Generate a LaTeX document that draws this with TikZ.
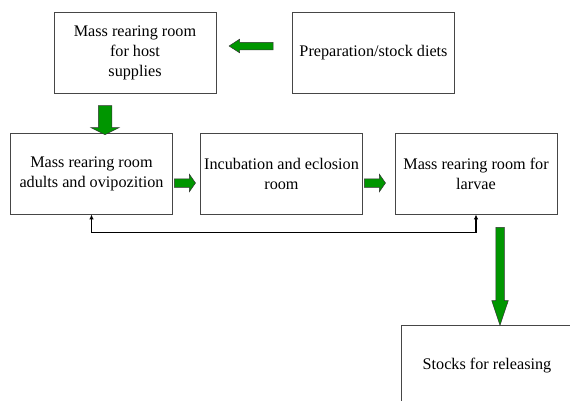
\documentclass[tikz,border=0pt]{standalone}
\usepackage{fontspec}
\setmainfont{Liberation Serif}
\usepackage{tikz}
\usetikzlibrary{shapes.arrows,arrows.meta}
\definecolor{arrowgreen}{RGB}{0,150,0}
\definecolor{boxline}{RGB}{70,70,70}

\begin{document}
\begin{tikzpicture}[x=1pt, y=-1pt,
    font=\fontsize{16.2}{20}\selectfont,
    box/.style={draw=boxline, line width=0.8pt, minimum width=162pt, minimum height=81pt, inner sep=0pt, align=center},
    garrow/.style={single arrow, draw=black!80, line width=0.5pt, fill=arrowgreen, inner xsep=0pt, single arrow head indent=0pt},
    fb/.style={line width=1.5pt, {Latex[length=5pt,width=4.5pt]}-{Latex[length=5pt,width=4.5pt]}}]
    \useasboundingbox (0,0) rectangle (570,400);

    % Top row
    \node[box] (host) at (135, 52.5) {Mass rearing room\\for host\\supplies};
    \node[box] (diet) at (373.5, 52.5) {Preparation/stock diets};

    % Middle row
    \node[box] (adult) at (91.5, 173.5) {Mass rearing room\\adults and ovipozition};
    \node[box] (incub) at (281.5, 173.5) {Incubation and eclosion\\room};
    \node[box] (larva) at (476, 173.5) {Mass rearing room for\\larvae};

    % Bottom box
    \node[box, minimum width=172pt, minimum height=82pt] (stock) at (487, 366) {Stocks for releasing};

    % Green arrows
    \node[garrow, rotate=180, inner ysep=3.5pt, minimum height=44pt, single arrow head extend=3pt, single arrow tip angle=66] (a1) at (254, 46) {};
    \node[garrow, rotate=-90, inner ysep=6.5pt, minimum height=29pt, single arrow head extend=7.5pt, single arrow tip angle=127] (a2) at (105, 118.5) {};
    \node[garrow, inner ysep=4pt, minimum height=21pt, single arrow head extend=4.5pt, single arrow tip angle=110] (a3) at (183.5, 183) {};
    \node[garrow, inner ysep=4pt, minimum height=21pt, single arrow head extend=4.5pt, single arrow tip angle=110] (a4) at (373.5, 183) {};
    \node[garrow, rotate=-90, inner ysep=4pt, minimum height=98pt, single arrow head extend=4pt, single arrow tip angle=37] (a5) at (500, 270) {};

    % Return line
    \draw[fb] (adult.south) -- ++(0, 18) -| (larva.south);
\end{tikzpicture}
\end{document}
